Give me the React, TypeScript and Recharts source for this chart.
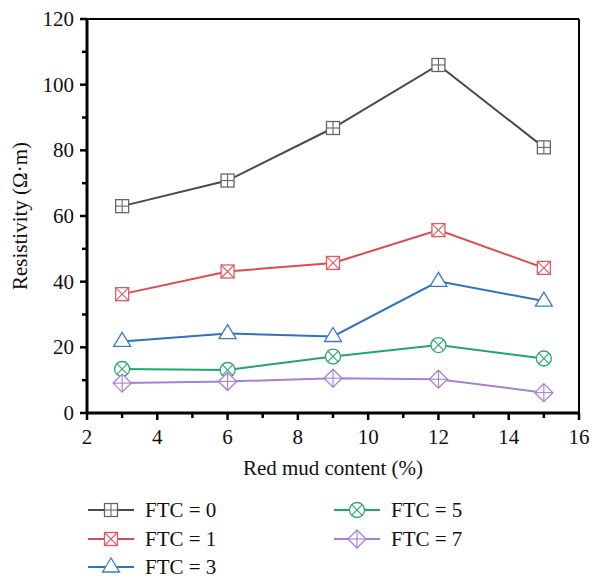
import React from 'react';
import { LineChart, Line, XAxis, YAxis, ReferenceLine } from 'recharts';

const redMud = [3, 6, 9, 12, 15];
const ftc0 = [63, 70.8, 86.8, 106, 80.9];
const ftc1 = [36.2, 43.1, 45.7, 55.7, 44.2];
const ftc3 = [21.8, 24.2, 23.3, 40.1, 34.1];
const ftc5 = [13.4, 13.1, 17.2, 20.7, 16.6];
const ftc7 = [9.1, 9.6, 10.6, 10.3, 6.2];

const xMajor = [2, 4, 6, 8, 10, 12, 14, 16];
const xMinor = [3, 5, 7, 9, 11, 13, 15];
const yMajor = [0, 20, 40, 60, 80, 100, 120];
const yMinor = [10, 30, 50, 70, 90, 110];

const FONT = 'Liberation Serif, DejaVu Serif, serif';

const data = redMud.map((x, i) => ({
  x,
  ftc0: ftc0[i],
  ftc1: ftc1[i],
  ftc3: ftc3[i],
  ftc5: ftc5[i],
  ftc7: ftc7[i],
}));

type Shape = 'squarePlus' | 'squareX' | 'triangle' | 'circleX' | 'diamondPlus';

const series: { key: string; name: string; color: string; mark: string; shape: Shape }[] = [
  { key: 'ftc0', name: 'FTC = 0', color: '#4a4a4a', mark: '#666666', shape: 'squarePlus' },
  { key: 'ftc1', name: 'FTC = 1', color: '#e04a4e', mark: '#e05a5e', shape: 'squareX' },
  { key: 'ftc3', name: 'FTC = 3', color: '#2f72c4', mark: '#3b7cc9', shape: 'triangle' },
  { key: 'ftc5', name: 'FTC = 5', color: '#22a56e', mark: '#2aa874', shape: 'circleX' },
  { key: 'ftc7', name: 'FTC = 7', color: '#a77fd4', mark: '#a77fd4', shape: 'diamondPlus' },
];

function Marker({ cx, cy, shape, color }: { cx: number; cy: number; shape: Shape; color: string }) {
  const p = { fill: '#fff', stroke: color, strokeWidth: 1.3 };
  const l = { stroke: color, strokeWidth: 1.1 };
  const s = 6.5;
  if (shape === 'squarePlus') {
    return (
      <g>
        <rect x={cx - s} y={cy - s} width={2 * s} height={2 * s} {...p} />
        <line x1={cx} y1={cy - s} x2={cx} y2={cy + s} {...l} />
        <line x1={cx - s} y1={cy} x2={cx + s} y2={cy} {...l} />
      </g>
    );
  }
  if (shape === 'squareX') {
    return (
      <g>
        <rect x={cx - s} y={cy - s} width={2 * s} height={2 * s} {...p} />
        <line x1={cx - s} y1={cy - s} x2={cx + s} y2={cy + s} {...l} />
        <line x1={cx - s} y1={cy + s} x2={cx + s} y2={cy - s} {...l} />
      </g>
    );
  }
  if (shape === 'triangle') {
    return <polygon points={`${cx},${cy - 9} ${cx - 8.5},${cy + 5} ${cx + 8.5},${cy + 5}`} {...p} />;
  }
  if (shape === 'circleX') {
    const r = 7.5;
    const d = r * 0.707;
    return (
      <g>
        <circle cx={cx} cy={cy} r={r} {...p} />
        <line x1={cx - d} y1={cy - d} x2={cx + d} y2={cy + d} {...l} />
        <line x1={cx - d} y1={cy + d} x2={cx + d} y2={cy - d} {...l} />
      </g>
    );
  }
  const r = 9;
  return (
    <g>
      <polygon points={`${cx},${cy - r} ${cx + r},${cy} ${cx},${cy + r} ${cx - r},${cy}`} {...p} />
      <line x1={cx} y1={cy - r} x2={cx} y2={cy + r} {...l} />
      <line x1={cx - r} y1={cy} x2={cx + r} y2={cy} {...l} />
    </g>
  );
}

function XTick(props: any) {
  const { x, y, payload } = props;
  const major = xMajor.includes(payload.value);
  return (
    <g>
      <line x1={x} y1={y} x2={x} y2={y + (major ? 7 : 5)} stroke="#000" strokeWidth={2.5} />
      {major && (
        <text x={x} y={y + 31} textAnchor="middle" style={{ fontFamily: FONT }} fontSize={21} fill="#111">
          {payload.value}
        </text>
      )}
    </g>
  );
}

function YTick(props: any) {
  const { x, y, payload } = props;
  const major = yMajor.includes(payload.value);
  return (
    <g>
      <line x1={x} y1={y} x2={x - (major ? 7 : 5)} y2={y} stroke="#000" strokeWidth={2.5} />
      {major && (
        <text x={x - 13} y={y + 7} textAnchor="end" style={{ fontFamily: FONT }} fontSize={21} fill="#111">
          {payload.value}
        </text>
      )}
    </g>
  );
}

function LegendItem({ s, left, top }: { s: (typeof series)[number]; left: number; top: number }) {
  return (
    <div style={{ position: 'absolute', left, top: top - 12, height: 24, display: 'flex', alignItems: 'center' }}>
      <svg width={46} height={24}>
        <line x1={0} y1={12} x2={46} y2={12} stroke={s.color} strokeWidth={2} />
        <Marker cx={23} cy={12} shape={s.shape} color={s.mark} />
      </svg>
      <span style={{ marginLeft: 11, fontFamily: FONT, fontSize: 21, color: '#111', lineHeight: '24px' }}>{s.name}</span>
    </div>
  );
}

export default function App() {
  const legendPos = [
    { left: 88, top: 510 },
    { left: 88, top: 539 },
    { left: 88, top: 567 },
    { left: 334, top: 510 },
    { left: 334, top: 539 },
  ];
  return (
    <div style={{ position: 'absolute', left: 0, top: 0, width: 600, height: 580, background: '#fff' }}>
      <LineChart width={600} height={580} data={data} margin={{ top: 19, right: 21, left: 0, bottom: 0 }}>
        <XAxis
          dataKey="x"
          type="number"
          domain={[2, 16]}
          ticks={[...xMajor, ...xMinor].sort((a, b) => a - b)}
          interval={0}
          height={167}
          tickSize={0}
          tickMargin={0}
          tickLine={false}
          tick={<XTick />}
          axisLine={{ stroke: '#000', strokeWidth: 3 }}
          label={{
            content: (p: any) => (
              <text
                x={p.viewBox.x + p.viewBox.width / 2}
                y={p.viewBox.y + 62}
                textAnchor="middle"
                style={{ fontFamily: FONT }}
                fontSize={21}
                fill="#111"
              >
                Red mud content (%)
              </text>
            ),
          }}
        />
        <YAxis
          type="number"
          domain={[0, 120]}
          ticks={[...yMajor, ...yMinor].sort((a, b) => a - b)}
          interval={0}
          width={87}
          tickSize={0}
          tickMargin={0}
          tickLine={false}
          tick={<YTick />}
          axisLine={{ stroke: '#000', strokeWidth: 3 }}
          label={{
            content: (p: any) => {
              const cx = 22;
              const cy = p.viewBox.y + p.viewBox.height / 2;
              return (
                <text
                  x={cx}
                  y={cy}
                  transform={`rotate(-90, ${cx}, ${cy})`}
                  textAnchor="middle"
                  dominantBaseline="middle"
                  style={{ fontFamily: FONT }}
                  fontSize={21}
                  fill="#111"
                >
                  Resistivity (Ω·m)
                </text>
              );
            },
          }}
        />
        <ReferenceLine y={120} stroke="#000" strokeWidth={2} />
        <ReferenceLine x={16} stroke="#000" strokeWidth={2} />
        {series.map((s) => (
          <Line
            key={s.key}
            dataKey={s.key}
            name={s.name}
            stroke={s.color}
            strokeWidth={2}
            isAnimationActive={false}
            dot={(p: any) => <Marker key={`${s.key}-${p.index}`} cx={p.cx} cy={p.cy} shape={s.shape} color={s.mark} />}
            activeDot={false}
          />
        ))}
      </LineChart>
      {series.map((s, i) => (
        <LegendItem key={s.key} s={s} left={legendPos[i].left} top={legendPos[i].top} />
      ))}
    </div>
  );
}
